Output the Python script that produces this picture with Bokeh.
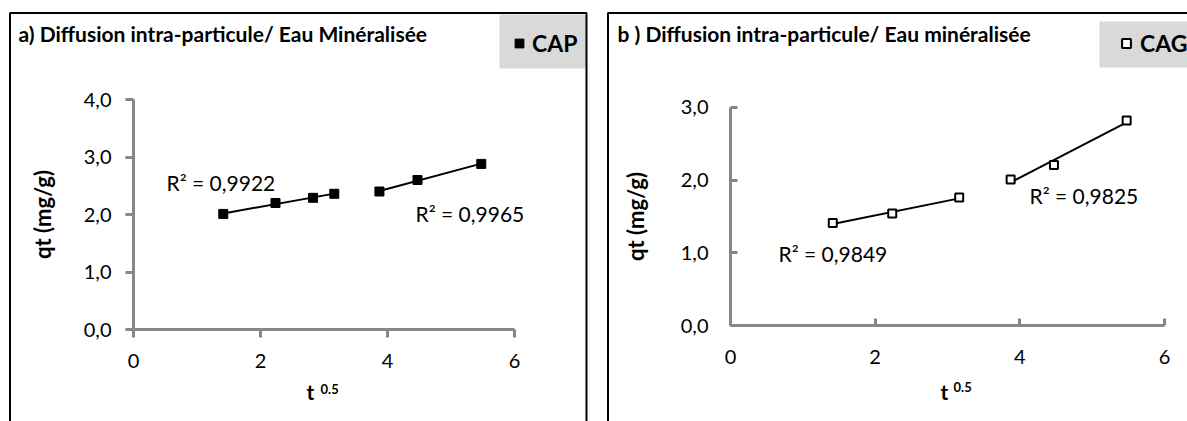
import numpy as np
from bokeh.plotting import figure
from bokeh.models import (Range1d, LinearAxis, FixedTicker, Label, Legend,
                          LegendItem, BoxAnnotation)
from bokeh.layouts import row
from bokeh.embed import file_html
from bokeh.resources import INLINE

# ---------------- data ----------------
t_sqrt_cap = [1.414, 2.236, 2.828, 3.162, 3.873, 4.472, 5.477]
qt_cap = [2.01, 2.20, 2.29, 2.36, 2.40, 2.60, 2.88]
cap_stage1_count = 4

t_sqrt_cag = [1.414, 2.236, 3.162, 3.873, 4.472, 5.477]
qt_cag = [1.41, 1.54, 1.76, 2.01, 2.21, 2.82]
cag_stage1_count = 3

r2_cap = ["R² = 0,9922", "R² = 0,9965"]
r2_cag = ["R² = 0,9849", "R² = 0,9825"]

x_ticks = [0, 2, 4, 6]
y_ticks_a = [0, 1, 2, 3, 4]
y_ticks_b = [0, 1, 2, 3]
y_tick_labels_a = ["0,0", "1,0", "2,0", "3,0", "4,0"]
y_tick_labels_b = ["0,0", "1,0", "2,0", "3,0"]

titles = ["a)  Diffusion intra-particule/ Eau Minéralisée",
          "b ) Diffusion intra-particule/ Eau  minéralisée"]
series_names = ["CAP", "CAG"]
y_label = "qt (mg/g)"
x_label_base = "t"
x_label_exp = "0.5"

FONT = "Lato"
AXIS_GRAY = "#878787"
TOP, HEIGHT = 0, 421


def make_panel(cfg):
    L, W = cfg["left"], cfg["width"]
    X0, XS, Y0, YS = cfg["X0"], cfg["XS"], cfg["Y0"], cfg["YS"]

    def fx(px):
        return (px - X0) / XS

    def fy(py):
        return (Y0 - py) / YS

    p = figure(width=W, height=HEIGHT, output_backend="svg", toolbar_location=None,
               tools="", x_range=Range1d(fx(L), fx(L + W)),
               y_range=Range1d(fy(TOP + HEIGHT), fy(TOP)),
               x_axis_location=None, y_axis_location=None, min_border=0,
               outline_line_color=None, background_fill_color="white",
               border_fill_color="white")
    p.xgrid.visible = False
    p.ygrid.visible = False

    # legend background box
    lg = cfg["legend"]
    p.add_layout(BoxAnnotation(left=fx(lg["box"][0]), right=fx(lg["box"][1]),
                               top=fy(lg["box"][2]), bottom=fy(lg["box"][3]),
                               fill_color="#d9d9d9", fill_alpha=1,
                               line_color=None, level="underlay"))
    # panel border
    p.add_layout(BoxAnnotation(left=fx(cfg["box"][0]), right=fx(cfg["box"][1]),
                               top=fy(cfg["box"][2]), bottom=fy(TOP + HEIGHT + 30),
                               fill_alpha=0, line_color="black", line_alpha=1,
                               line_width=2, level="underlay"))

    yt, ytl = cfg["yticks"], cfg["ylabels"]
    xa = LinearAxis(fixed_location=0, bounds=(x_ticks[0], x_ticks[-1]),
                    ticker=FixedTicker(ticks=x_ticks))
    ya = LinearAxis(fixed_location=0, bounds=(yt[0], yt[-1]),
                    ticker=FixedTicker(ticks=yt),
                    major_label_overrides={v: s for v, s in zip(yt, ytl)})
    for ax in (xa, ya):
        ax.axis_line_color = AXIS_GRAY
        ax.axis_line_width = 3
        ax.major_tick_line_color = AXIS_GRAY
        ax.major_tick_line_width = 3
        ax.major_tick_in = cfg["tick_in"]
        ax.major_tick_out = cfg["tick_out"]
        ax.minor_tick_line_color = None
        ax.major_label_text_font = FONT
        ax.major_label_text_font_size = "20px"
        ax.major_label_text_color = "black"
    xa.major_label_standoff = cfg["xstand"]
    ya.major_label_standoff = cfg["ystand"]
    ya.axis_label = y_label
    ya.axis_label_text_font = FONT
    ya.axis_label_text_font_style = "bold"
    ya.axis_label_text_font_size = "22px"
    ya.axis_label_text_color = "black"
    ya.axis_label_standoff = cfg["ylab_stand"]
    p.add_layout(xa, "below")
    p.add_layout(ya, "left")

    xs, ys, n1 = cfg["x"], cfg["y"], cfg["n1"]
    # linear trend lines for the two stages
    for a, b in ((0, n1), (n1, len(xs))):
        sx = np.array(xs[a:b]); sy = np.array(ys[a:b])
        k, c = np.polyfit(sx, sy, 1)
        ends = np.array([sx.min(), sx.max()])
        p.line(ends, k * ends + c, line_color="black", line_width=2)

    if cfg["filled"]:
        r = p.scatter(xs, ys, marker="square", size=9, fill_color="black",
                      line_color="black", line_width=1)
    else:
        r = p.scatter(xs, ys, marker="square", size=8, fill_color="white",
                      line_color="black", line_width=2)

    # R² labels
    for txt, (lx, ly) in zip(cfg["r2"], cfg["r2pos"]):
        p.add_layout(Label(x=fx(lx), y=fy(ly), text=txt, text_font=FONT,
                           text_font_size="21px", text_baseline="middle",
                           text_align="left", text_color="black"))

    # title
    p.add_layout(Label(x=fx(cfg["title_pos"][0]), y=fy(cfg["title_pos"][1]),
                       text=cfg["title"], text_font=FONT, text_font_size="21px",
                       text_font_style="bold", text_baseline="middle",
                       text_align="left", text_color="black"))

    # x axis label t^0.5
    tx, ty = cfg["t_pos"]
    p.add_layout(Label(x=fx(tx), y=fy(ty), text=x_label_base, text_font=FONT,
                       text_font_size="21px", text_font_style="bold",
                       text_baseline="middle", text_align="center",
                       text_color="black"))
    ex, ey = cfg["exp_pos"]
    p.add_layout(Label(x=fx(ex), y=fy(ey), text=x_label_exp, text_font=FONT,
                       text_font_size="13px", text_font_style="bold",
                       text_baseline="middle", text_align="left",
                       text_color="black"))

    gw, gh = 22, 30
    legend = Legend(items=[LegendItem(label=cfg["name"], renderers=[r])],
                    location=(lg["mx"] - gw / 2 - L,
                              TOP + HEIGHT - (lg["my"] + gh / 2)),
                    background_fill_alpha=0, border_line_color=None,
                    padding=0, margin=0, spacing=0,
                    glyph_width=gw, glyph_height=gh, label_height=gh,
                    label_standoff=lg["st"],
                    label_text_font=FONT, label_text_font_style="bold",
                    label_text_font_size="23px", label_text_color="black")
    p.add_layout(legend)
    return p


cfg_a = dict(left=0, width=598, X0=133, XS=63.5, Y0=329, YS=57.5,
             box=(9.5, 586, 12.5), yticks=y_ticks_a, ylabels=y_tick_labels_a,
             tick_in=0, tick_out=8, xstand=16, ystand=14, ylab_stand=25,
             x=t_sqrt_cap, y=qt_cap, n1=cap_stage1_count, filled=True,
             r2=r2_cap, r2pos=[(166, 182), (415, 213)],
             title=titles[0], title_pos=(18, 33), t_pos=(310, 391),
             exp_pos=(320, 388), name=series_names[0],
             legend=dict(box=(499, 586, 14, 68), mx=519, my=43, st=2))

cfg_b = dict(left=598, width=589, X0=730, XS=72.33, Y0=325, YS=72.67,
             box=(607.5, 1300, 12.5), yticks=y_ticks_b, ylabels=y_tick_labels_b,
             tick_in=7, tick_out=0, xstand=24, ystand=22, ylab_stand=29,
             x=t_sqrt_cag, y=qt_cag, n1=cag_stage1_count, filled=False,
             r2=r2_cag, r2pos=[(778, 253), (1029, 195)],
             title=titles[1], title_pos=(617, 33), t_pos=(944, 391),
             exp_pos=(953, 386), name=series_names[1],
             legend=dict(box=(1099, 1200, 21, 67), mx=1126, my=43, st=3))

pa = make_panel(cfg_a)
pb = make_panel(cfg_b)
layout = row(pa, pb, spacing=0)

open("out.html", "w").write(file_html(layout, INLINE))
